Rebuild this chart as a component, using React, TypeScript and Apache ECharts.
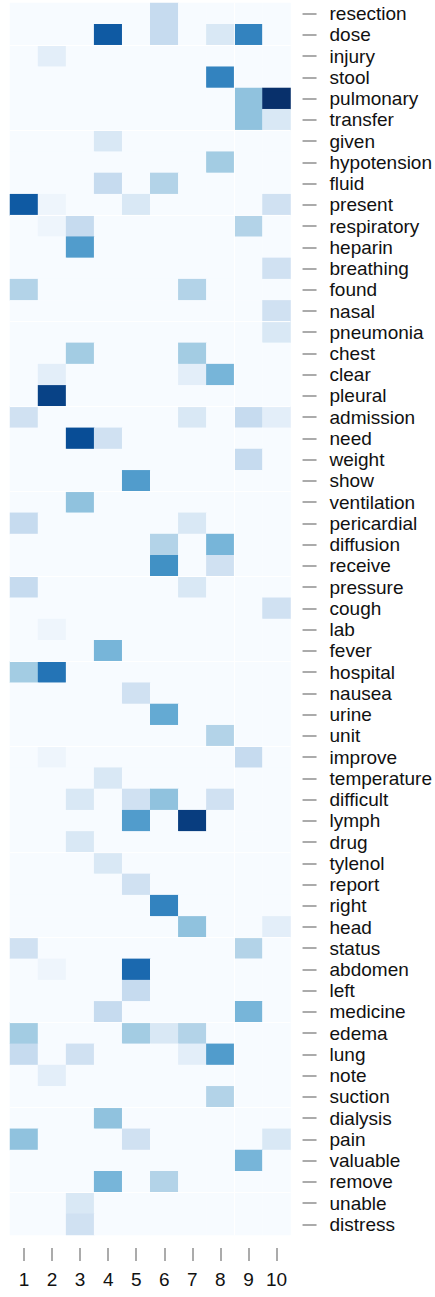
import React, { useEffect, useRef } from "react";
import * as echarts from "echarts";

const words: string[] = [
  "resection", "dose", "injury", "stool", "pulmonary", "transfer", "given", "hypotension",
  "fluid", "present", "respiratory", "heparin", "breathing", "found", "nasal", "pneumonia",
  "chest", "clear", "pleural", "admission", "need", "weight", "show", "ventilation",
  "pericardial", "diffusion", "receive", "pressure", "cough", "lab", "fever", "hospital",
  "nausea", "urine", "unit", "improve", "temperature", "difficult", "lymph", "drug",
  "tylenol", "report", "right", "head", "status", "abdomen", "left", "medicine",
  "edema", "lung", "note", "suction", "dialysis", "pain", "valuable", "remove",
  "unable", "distress",
];

const topics: string[] = ["1", "2", "3", "4", "5", "6", "7", "8", "9", "10"];

// one row of 10 topic weights per word
const weights: number[][] = [
  [0, 0, 0, 0, 0, 0.25, 0, 0, 0, 0],
  [0, 0, 0, 0.84, 0, 0.25, 0, 0.15, 0.68, 0],
  [0, 0.1, 0, 0, 0, 0, 0, 0, 0, 0],
  [0, 0, 0, 0, 0, 0, 0, 0.68, 0, 0],
  [0, 0, 0, 0, 0, 0, 0, 0, 0.41, 1],
  [0, 0, 0, 0, 0, 0, 0, 0, 0.41, 0.15],
  [0, 0, 0, 0.15, 0, 0, 0, 0, 0, 0],
  [0, 0, 0, 0, 0, 0, 0, 0.36, 0, 0],
  [0, 0, 0, 0.25, 0, 0.31, 0, 0, 0, 0],
  [0.84, 0.045, 0, 0, 0.15, 0, 0, 0, 0, 0.2],
  [0, 0.045, 0.25, 0, 0, 0, 0, 0, 0.31, 0],
  [0, 0, 0.58, 0, 0, 0, 0, 0, 0, 0],
  [0, 0, 0, 0, 0, 0, 0, 0, 0, 0.2],
  [0.31, 0, 0, 0, 0, 0, 0.31, 0, 0, 0],
  [0, 0, 0, 0, 0, 0, 0, 0, 0, 0.2],
  [0, 0, 0, 0, 0, 0, 0, 0, 0, 0.15],
  [0, 0, 0.36, 0, 0, 0, 0.36, 0, 0, 0],
  [0, 0.1, 0, 0, 0, 0, 0.1, 0.47, 0, 0],
  [0, 0.93, 0, 0, 0, 0, 0, 0, 0, 0],
  [0.2, 0, 0, 0, 0, 0, 0.15, 0, 0.25, 0.1],
  [0, 0, 0.89, 0.2, 0, 0, 0, 0, 0, 0],
  [0, 0, 0, 0, 0, 0, 0, 0, 0.25, 0],
  [0, 0, 0, 0, 0.58, 0, 0, 0, 0, 0],
  [0, 0, 0.41, 0, 0, 0, 0, 0, 0, 0],
  [0.25, 0, 0, 0, 0, 0, 0.15, 0, 0, 0],
  [0, 0, 0, 0, 0, 0.31, 0, 0.47, 0, 0],
  [0, 0, 0, 0, 0, 0.63, 0, 0.2, 0, 0],
  [0.25, 0, 0, 0, 0, 0, 0.15, 0, 0, 0],
  [0, 0, 0, 0, 0, 0, 0, 0, 0, 0.2],
  [0, 0.045, 0, 0, 0, 0, 0, 0, 0, 0],
  [0, 0, 0, 0.47, 0, 0, 0, 0, 0, 0],
  [0.36, 0.74, 0, 0, 0, 0, 0, 0, 0, 0],
  [0, 0, 0, 0, 0.2, 0, 0, 0, 0, 0],
  [0, 0, 0, 0, 0, 0.52, 0, 0, 0, 0],
  [0, 0, 0, 0, 0, 0, 0, 0.31, 0, 0],
  [0, 0.045, 0, 0, 0, 0, 0, 0, 0.25, 0],
  [0, 0, 0, 0.15, 0, 0, 0, 0, 0, 0],
  [0, 0, 0.15, 0, 0.2, 0.41, 0, 0.2, 0, 0],
  [0, 0, 0, 0, 0.58, 0, 0.95, 0, 0, 0],
  [0, 0, 0.15, 0, 0, 0, 0, 0, 0, 0],
  [0, 0, 0, 0.15, 0, 0, 0, 0, 0, 0],
  [0, 0, 0, 0, 0.2, 0, 0, 0, 0, 0],
  [0, 0, 0, 0, 0, 0.68, 0, 0, 0, 0],
  [0, 0, 0, 0, 0, 0, 0.41, 0, 0, 0.1],
  [0.2, 0, 0, 0, 0, 0, 0, 0, 0.31, 0],
  [0, 0.045, 0, 0, 0.78, 0, 0, 0, 0, 0],
  [0, 0, 0, 0, 0.25, 0, 0, 0, 0, 0],
  [0, 0, 0, 0.25, 0, 0, 0, 0, 0.47, 0],
  [0.36, 0, 0, 0, 0.36, 0.15, 0.31, 0, 0, 0],
  [0.25, 0, 0.2, 0, 0, 0, 0.1, 0.58, 0, 0],
  [0, 0.1, 0, 0, 0, 0, 0, 0, 0, 0],
  [0, 0, 0, 0, 0, 0, 0, 0.31, 0, 0],
  [0, 0, 0, 0.41, 0, 0, 0, 0, 0, 0],
  [0.41, 0, 0, 0, 0.2, 0, 0, 0, 0, 0.15],
  [0, 0, 0, 0, 0, 0, 0, 0, 0.47, 0],
  [0, 0, 0, 0.47, 0, 0.31, 0, 0, 0, 0],
  [0, 0, 0.15, 0, 0, 0, 0, 0, 0, 0],
  [0, 0, 0.2, 0, 0, 0, 0, 0, 0, 0],
];

// row indices where a new row block starts, and column index where a new column block starts
const rowBreaks: number[] = [2, 6, 10, 15, 19, 23, 27, 31, 35, 40, 44, 48, 52, 56];
const colBreaks: number[] = [8];

const blues = [
  "#f7fbff", "#deebf7", "#c6dbef", "#9ecae1", "#6baed6",
  "#4292c6", "#2171b5", "#08519c", "#08306b",
];

export default function App() {
  const ref = useRef<HTMLDivElement>(null);

  useEffect(() => {
    document.body.style.margin = "0";
    if (!ref.current) return;
    const chart = echarts.init(ref.current, null, { renderer: "svg" });

    const cells: [number, number, number][] = [];
    weights.forEach((row, r) => row.forEach((v, c) => cells.push([c, r, v])));

    const font = "Arial";

    chart.setOption({
      animation: false,
      backgroundColor: "#ffffff",
      grid: { left: 10, top: 3, width: 281, height: 1232, containLabel: false },
      xAxis: {
        type: "category",
        data: topics,
        position: "bottom",
        offset: 13,
        axisLine: { show: false },
        axisTick: { show: true, length: 13, alignWithLabel: true, lineStyle: { color: "#ababab", width: 2 } },
        axisLabel: { margin: 22, fontSize: 19, color: "#111111", fontFamily: font },
        splitLine: { show: false },
      },
      yAxis: {
        type: "category",
        data: words,
        inverse: true,
        position: "right",
        offset: 12,
        axisLine: { show: false },
        axisTick: { show: true, length: 14, alignWithLabel: true, lineStyle: { color: "#ababab", width: 2 } },
        axisLabel: { margin: 27, fontSize: 19, color: "#111111", fontFamily: font, interval: 0 },
        splitLine: { show: false },
      },
      visualMap: {
        show: false,
        type: "continuous",
        min: 0,
        max: 1,
        dimension: 2,
        seriesIndex: 0,
        inRange: { color: blues },
      },
      series: [
        {
          type: "heatmap",
          data: cells,
          itemStyle: { borderWidth: 0 },
          emphasis: { disabled: true },
          silent: true,
        },
        {
          type: "custom",
          silent: true,
          data: rowBreaks.map((b) => [0, b]),
          encode: { x: 0, y: 1 },
          renderItem: (params: any, api: any) => {
            const p = api.coord([api.value(0), api.value(1)]);
            const h = api.size([0, 1])[1];
            const cs = params.coordSys;
            const y = p[1] - h / 2;
            return {
              type: "line",
              shape: { x1: cs.x, y1: y, x2: cs.x + cs.width, y2: y },
              style: { stroke: "#ffffff", lineWidth: 1 },
            };
          },
          z: 5,
        },
        {
          type: "custom",
          silent: true,
          data: colBreaks.map((b) => [b, 0]),
          encode: { x: 0, y: 1 },
          renderItem: (params: any, api: any) => {
            const p = api.coord([api.value(0), api.value(1)]);
            const w = api.size([1, 0])[0];
            const cs = params.coordSys;
            const x = p[0] - w / 2;
            return {
              type: "line",
              shape: { x1: x, y1: cs.y, x2: x, y2: cs.y + cs.height },
              style: { stroke: "#ffffff", lineWidth: 1 },
            };
          },
          z: 5,
        },
      ],
    });

    return () => chart.dispose();
  }, []);

  return <div ref={ref} style={{ width: 435, height: 1297 }} />;
}
